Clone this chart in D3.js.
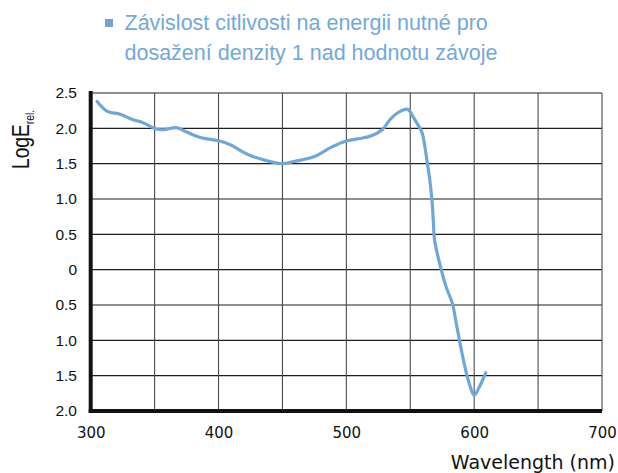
<!DOCTYPE html>
<html>
<head>
<meta charset="utf-8">
<script src="https://cdn.jsdelivr.net/npm/d3@7"></script>
<style>
  html, body { margin: 0; padding: 0; background: #ffffff; }
  svg { display: block; }
</style>
</head>
<body>
<svg id="chart" width="618" height="473"></svg>
<script>
// ---- data ----
const wavelengths = [305, 313, 323, 332, 341, 351, 357, 367, 376, 386, 401, 410, 423, 436, 450, 459, 475, 488, 500, 509, 519, 528, 535, 541, 548, 552, 555, 559, 561, 563, 565, 567, 568, 569, 573, 578, 583, 586, 590, 594, 597, 600, 604, 609];
const logE =        [2.38, 2.24, 2.20, 2.13, 2.08, 1.99, 1.98, 2.01, 1.94, 1.87, 1.82, 1.76, 1.63, 1.55, 1.50, 1.53, 1.60, 1.73, 1.82, 1.85, 1.89, 1.98, 2.14, 2.23, 2.27, 2.17, 2.08, 1.95, 1.79, 1.55, 1.31, 0.98, 0.70, 0.42, 0.09, -0.24, -0.48, -0.76, -1.14, -1.47, -1.66, -1.78, -1.66, -1.46];
const xTicks = [300, 400, 500, 600, 700];
const xGrid = [300, 350, 400, 450, 500, 550, 600, 650, 700];
const yTicks = [2.5, 2.0, 1.5, 1.0, 0.5, 0, -0.5, -1.0, -1.5, -2.0];
const titleLines = ["Závislost citlivosti na energii nutné pro", "dosažení denzity 1 nad hodnotu závoje"];
const xTitle = "Wavelength (nm)";

const svg = d3.select("#chart");
const x = d3.scaleLinear().domain([300, 700]).range([90.7, 602]);
const y = d3.scaleLinear().domain([-2, 2.5]).range([411, 93]);

// gridlines
svg.append("g").selectAll("line").data(yTicks).join("line")
  .attr("x1", x(300)).attr("x2", x(700))
  .attr("y1", d => y(d)).attr("y2", d => y(d))
  .attr("stroke", "#1e1e1e").attr("stroke-width", 1.1);
svg.append("g").selectAll("line").data(xGrid).join("line")
  .attr("x1", d => x(d)).attr("x2", d => x(d))
  .attr("y1", y(2.5)).attr("y2", y(-2))
  .attr("stroke", "#4a4a4a").attr("stroke-width", 1.1);

// main axes (thick)
svg.append("line").attr("x1", x(300)).attr("x2", x(300))
  .attr("y1", y(2.5) - 2).attr("y2", y(-2) + 2)
  .attr("stroke", "#111").attr("stroke-width", 4);
svg.append("line").attr("x1", x(300) - 2).attr("x2", x(700))
  .attr("y1", y(-2)).attr("y2", y(-2))
  .attr("stroke", "#111").attr("stroke-width", 4);

// y tick labels
const yAxis = d3.axisLeft(y).tickValues(yTicks).tickSize(0).tickPadding(0)
  .tickFormat(d => d === 0 ? "0" : Math.abs(d).toFixed(1));
const gy = svg.append("g").attr("transform", "translate(77,0)").call(yAxis);
gy.select(".domain").remove();
gy.selectAll("text").attr("font-family", "'Liberation Sans', Arial, sans-serif")
  .attr("font-size", "15.5px").attr("fill", "#111");

// x tick labels
const xAxis = d3.axisBottom(x).tickValues(xTicks).tickSize(0).tickPadding(0)
  .tickFormat(d3.format("d"));
const gx = svg.append("g").attr("transform", "translate(0,427)").call(xAxis);
gx.select(".domain").remove();
gx.selectAll("text").attr("font-family", "'DejaVu Sans', sans-serif")
  .attr("font-size", "15px").attr("fill", "#111");

// curve
const pts = wavelengths.map((w, i) => [w, logE[i]]);
const line = d3.line().x(d => x(d[0])).y(d => y(d[1])).curve(d3.curveCatmullRom.alpha(0.5));
svg.append("path").datum(pts).attr("d", line)
  .attr("fill", "none").attr("stroke", "#6ea8da").attr("stroke-width", 3.2)
  .attr("stroke-linejoin", "round").attr("stroke-linecap", "round");

// x axis title
svg.append("text").attr("x", 615).attr("y", 469).attr("text-anchor", "end")
  .attr("font-family", "'DejaVu Sans', sans-serif").attr("font-size", "19px")
  .attr("fill", "#111").text(xTitle);

// y axis title
const yt = svg.append("text")
  .attr("transform", "translate(29,169) rotate(-90) scale(0.8,1)")
  .attr("font-family", "'Liberation Sans', Arial, sans-serif").attr("font-size", "24px")
  .attr("fill", "#111");
yt.append("tspan").text("LogE");
yt.append("tspan").attr("font-size", "13px").attr("dy", 5).text("rel.");

// legend / title
svg.append("rect").attr("x", 105).attr("y", 19).attr("width", 8).attr("height", 8)
  .attr("fill", "#6ea3d4");
svg.append("g").selectAll("text").data(titleLines).join("text")
  .attr("x", 124.5).attr("y", (d, i) => 29.5 + i * 30.5)
  .attr("font-family", "'Liberation Sans', Arial, sans-serif").attr("font-size", "21.5px")
  .attr("fill", "#72a9da").text(d => d);
</script>
</body>
</html>
